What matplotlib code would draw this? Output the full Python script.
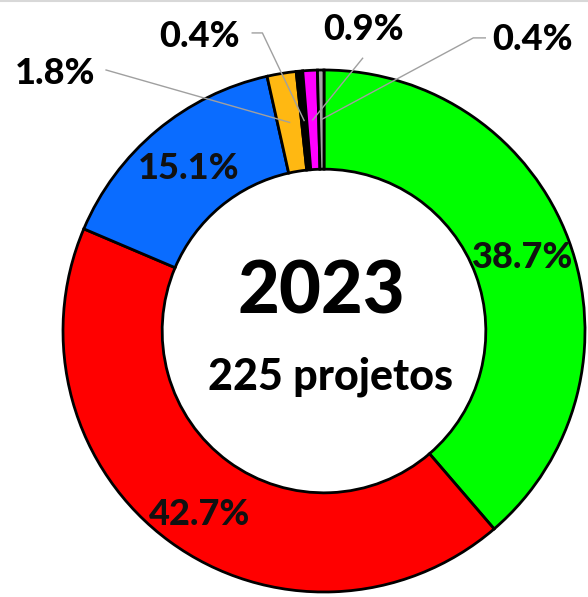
import numpy as np
import matplotlib
matplotlib.use("Agg")
import matplotlib.pyplot as plt

# --- data ---
shares = [38.7, 42.7, 15.1, 1.8, 0.4, 0.9, 0.4]
labels = ["38.7%", "42.7%", "15.1%", "1.8%", "0.4%", "0.9%", "0.4%"]
colors = ["#00FF00", "#FF0000", "#0A6CFF", "#FFB812", "#000000", "#FF00FF", "#A6A6A6"]
year = "2023"
subtitle = "225 projetos"

# which labels sit inside the ring and which go outside with a leader line
inside = [0, 1, 2]
outside = {3: (-1.03, 0.985), 4: (-0.475, 1.13), 5: (0.153, 1.155), 6: (0.80, 1.115)}
# leader line start points (near the label), in data units
leader = {3: [(-0.835, 1.0)],
          4: [(-0.275, 1.142), (-0.236, 1.142)],
          5: [(0.148, 1.045)],
          6: [(0.618, 1.123), (0.572, 1.123)]}

W, H = 588, 597
cx, cy, R = 324, 331, 261  # pixel centre and radius of the donut

plt.rcParams['font.family'] = ['Lato', 'DejaVu Sans']

fig = plt.figure(figsize=(W / 100, H / 100), dpi=100)
ax = fig.add_axes([0, 0, 1, 1])

wedges, _ = ax.pie(shares, colors=colors, startangle=90, counterclock=False,
                   radius=1.0,
                   wedgeprops=dict(width=0.38, edgecolor="black", linewidth=2.0))

# mid-angle of each wedge (radians, standard orientation)
cum = np.cumsum([0] + shares[:-1])
mids = np.deg2rad(90 - 360 * (cum + np.array(shares) / 2) / 100)
r_mid = 0.81

for i in inside:
    x, y = r_mid * np.cos(mids[i]), r_mid * np.sin(mids[i])
    if i == 1:
        y -= 0.05
    ax.text(x, y, labels[i], ha="center", va="center", fontsize=26,
            fontweight="black", color="#111111")

for i, (tx, ty) in outside.items():
    px, py = r_mid * np.cos(mids[i]), r_mid * np.sin(mids[i])
    pts = leader[i] + [(px, py)]
    ax.plot([p[0] for p in pts], [p[1] for p in pts], color="#A0A0A0",
            lw=1.0, zorder=5)
    ax.text(tx, ty, labels[i], ha="center", va="center", fontsize=26,
            fontweight="black", color="black")

ax.text(-0.01, 0.145, year, ha="center", va="center", fontsize=52,
        fontweight="black", color="black")
ax.text(0.025, -0.175, subtitle, ha="center", va="center", fontsize=31,
        fontweight="black", color="black")

ax.set_xlim(-cx / R, (W - cx) / R)
ax.set_ylim(-(H - cy) / R, cy / R)
ax.set_aspect("auto")
ax.axis("off")

# faint frame line along the top edge, as in the reference
fig.add_artist(plt.Line2D([0, 1], [0.998, 0.998], color="#D8D8D8", lw=1.5,
                          transform=fig.transFigure))

fig.savefig("out.png", dpi=100)
